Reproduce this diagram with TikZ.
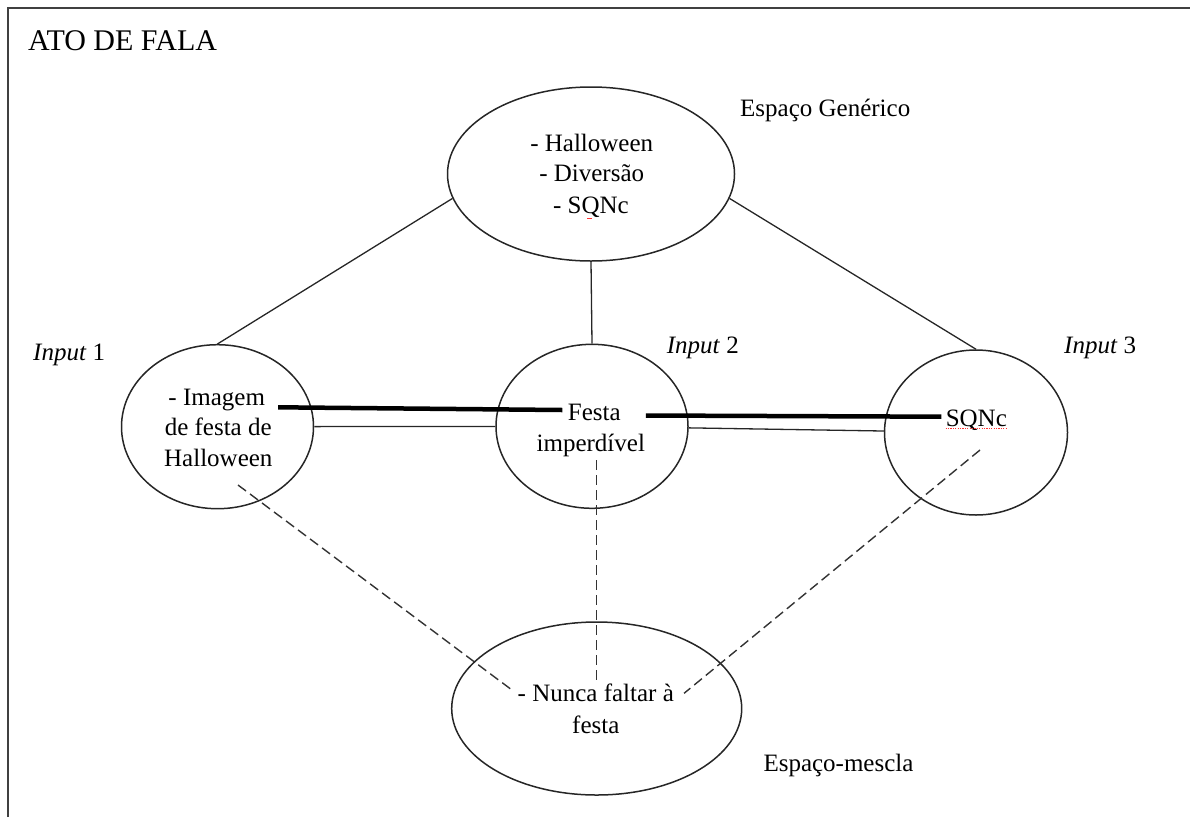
\documentclass[tikz,border=0pt]{standalone}
\usepackage{fontspec}
\setmainfont{Liberation Serif}
\usetikzlibrary{shapes.geometric}
\begin{document}
\begin{tikzpicture}[x=1pt,y=-1pt,
  space/.style={draw=black!85, ellipse, line width=1.5pt, inner sep=0pt},
  txt/.style={inner sep=0pt, anchor=base, font=\fontsize{25}{30}\selectfont},
  label/.style={inner sep=0pt, anchor=base west, font=\fontsize{25}{30}\selectfont},
  link/.style={line width=1.3pt, black!85},
  bold link/.style={line width=4.5pt},
  blend/.style={line width=1.4pt, black!80, dash pattern=on 10pt off 5pt},
  spell/.style={red!80, line width=0.7pt, dash pattern=on 1.2pt off 1.2pt}]
\useasboundingbox (0,0) rectangle (1190,817);

% frame
\draw[line width=2pt, black!75] (8,817) -- (8,8) -- (1190,8);
\node[inner sep=0pt, anchor=base west, font=\fontsize{30}{34}\selectfont] (title) at (28,50) {ATO DE FALA};

% mental spaces
\node[space, minimum width=287, minimum height=174] (gen) at (591,174) {};
\node[space, minimum width=192, minimum height=164] (in1) at (217.5,426.7) {};
\node[space, minimum width=192, minimum height=164] (in2) at (592,426.3) {};
\node[space, minimum width=183, minimum height=165] (in3) at (976,432.5) {};
\node[space, minimum width=290, minimum height=173] (mix) at (596.7,708.5) {};

% contents
\node[txt] (g1) at (591.7,151.7) {- Halloween};
\node[txt] (g2) at (591.7,181.7) {- Diversão};
\node[txt] (g3) at (591,213.3) {- SQNc};

\node[txt] (i1a) at (216.7,405) {- Imagem};
\node[txt] (i1b) at (218.2,435) {de festa de};
\node[txt] (i1c) at (218.3,466.7) {Halloween};

\node[txt] (i2a) at (594.3,420) {Festa};
\node[txt] (i2b) at (590.8,451.7) {imperdível};

\node[txt] (i3a) at (976.3,426.7) {SQNc};

\node[txt] (m1) at (595.8,701.7) {- Nunca faltar à};
\node[txt] (m2) at (595.8,733.3) {festa};

% labels
\node[label] (lgen) at (740,116.7) {Espaço Genérico};
\node[label] (lin1) at (33,360.7) {\textit{Input} 1};
\node[label] (lin2) at (666.7,353) {\textit{Input} 2};
\node[label] (lin3) at (1064,353) {\textit{Input} 3};
\node[label] (lmix) at (763.3,771.7) {Espaço-mescla};

% spell-check marks
\draw[spell] ([shift={(0,2)}]i3a.base west) -- ([shift={(0,2)}]i3a.base east);
\draw[red!80, line width=0.8pt] ([shift={(-4,5)}]g3.base) -- ([shift={(1,5)}]g3.base);

% generic space to inputs
\draw[link] (gen.190) -- (in1.north);
\draw[link] (gen.south) -- (in2.north);
\draw[link] (gen.-10) -- (in3.north);

% cross-space links
\draw[link] (in1) -- (in2);
\draw[link] (in2) -- (in3);
\draw[bold link] ([shift={(13,2.3)}]i1a.base east) -- ([shift={(-5.3,-10)}]i2a.base west);
\draw[bold link] ([shift={(25,-4.5)}]i2a.base east) -- ([shift={(-4.3,-10)}]i3a.base west);

% projections into the blend
\coordinate (d1) at (238,485);
\coordinate (d2) at (596.7,460);
\coordinate (d3) at (980,450);
\draw[blend] (d1) -- ([shift={(-3.3,-10)}]m1.base west);
\draw[blend] (d2) -- (d2 |- m1.north);
\draw[blend] (d3) -- ([shift={(10,-8.4)}]m1.base east);
\end{tikzpicture}
\end{document}
